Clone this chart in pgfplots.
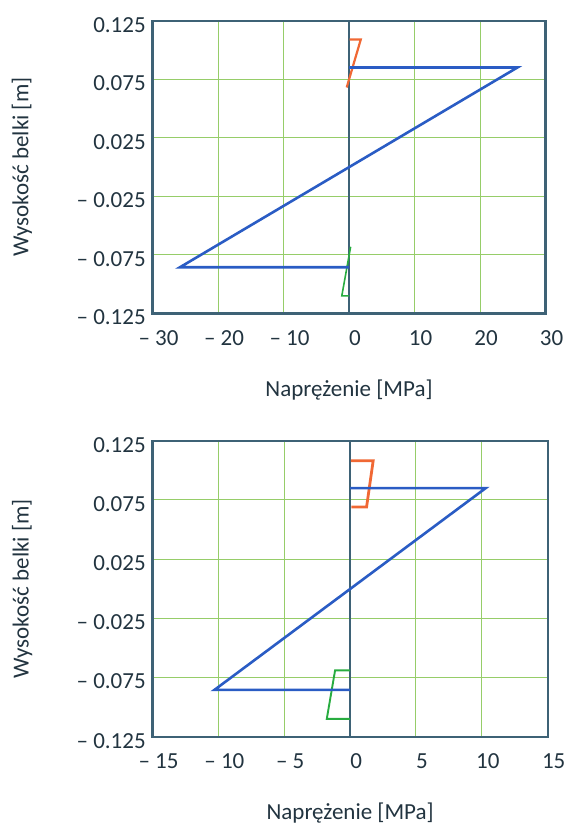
\documentclass[border=0pt]{standalone}
\usepackage{fontspec}
\setmainfont{Carlito}
\usepackage{pgfplots}
\pgfplotsset{compat=1.18}

\definecolor{frame}{RGB}{62,98,118}
\definecolor{txt}{RGB}{34,52,64}
\definecolor{gridc}{RGB}{150,205,105}
\definecolor{sblue}{RGB}{42,92,196}
\definecolor{sorange}{RGB}{240,104,52}
\definecolor{sgreen}{RGB}{40,172,64}

\pgfplotsset{
  beam/.style={
    scale only axis,
    anchor=south west,
    ymin=-0.125, ymax=0.125,
    ytick={-0.125,-0.075,-0.025,0.025,0.075,0.125},
    yticklabels={– 0.125,– 0.075,– 0.025,0.025,0.075,0.125},
    grid=major,
    major grid style={draw=gridc, line width=1pt},
    major tick length=0pt,
    axis line style={draw=frame, line width=2.2pt},
    every tick label/.append style={font=\fontsize{23}{27}\selectfont, text=txt},
    label style={font=\fontsize{23}{27}\selectfont, text=txt},
    xticklabel style={anchor=center, yshift=-24.8pt, xshift=6pt},
    yticklabel style={anchor=east, inner sep=0pt, xshift=-6.6pt, yshift=-4pt},
    extra x ticks={0}, extra x tick labels={0},
    extra x tick style={major grid style={draw=frame, line width=1.3pt}},
    xlabel={Naprężenie [MPa]},
    ylabel={Wysokość belki [m]},
  },
}

\begin{document}
\begin{tikzpicture}[x=1pt,y=1pt]
\useasboundingbox (0,0) rectangle (567,825);

% upper chart
\begin{axis}[beam,
  at={(152.5pt,511.5pt)}, width=393pt, height=292.8pt,
  xmin=-30, xmax=30,
  xtick={-30,-20,-10,10,20,30},
  xticklabels={– 30,– 20,– 10,10,20,30},
  xlabel style={at={(axis description cs:0.5,-0.2613)}, anchor=center},
  ylabel style={at={(axis description cs:-0.332,0.5)}, anchor=center},
]
\addplot[sorange, line width=2.2pt] coordinates {(0.1,0.109) (1.8,0.109) (-0.35,0.068)};
\addplot[sgreen, line width=1.6pt] coordinates {(0.25,-0.068) (-1.1,-0.110) (0,-0.110)};
\addplot[sblue, line width=2.6pt] coordinates {(0,0.085) (25.7,0.085) (-25.8,-0.0855) (0,-0.0855)};
\end{axis}

% lower chart
\begin{axis}[beam,
  at={(152.5pt,88.3pt)}, width=395.2pt, height=296pt,
  xmin=-15, xmax=15,
  xtick={-15,-10,-5,5,10,15},
  xticklabels={– 15,– 10,– 5,5,10,15},
  xlabel style={at={(axis description cs:0.5,-0.2588)}, anchor=center},
  ylabel style={at={(axis description cs:-0.330,0.5)}, anchor=center},
]
\addplot[sorange, line width=2.8pt] coordinates {(0.05,0.108) (1.75,0.108) (1.25,0.069) (0.1,0.069)};
\addplot[sgreen, line width=1.9pt] coordinates {(0,-0.069) (-1.14,-0.069) (-1.77,-0.110) (0,-0.110)};
\addplot[sblue, line width=2.6pt] coordinates {(0,0.085) (10.3,0.085) (-10.3,-0.0855) (0,-0.0855)};
\end{axis}
\end{tikzpicture}
\end{document}
